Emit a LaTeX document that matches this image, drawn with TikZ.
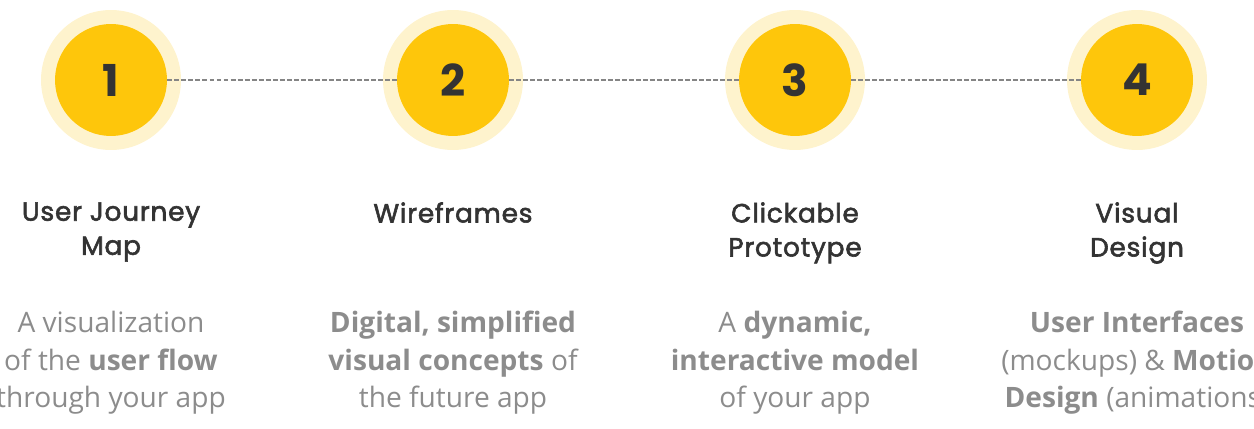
\documentclass[tikz,border=0pt]{standalone}
\usepackage{fontspec}
\setmainfont{Open Sans}
\newfontfamily\headfont{Poppins}[LetterSpace=3, FakeBold=2.2]
\newfontfamily\numfont{Poppins}[UprightFont=*, BoldFont=* Bold]
\usetikzlibrary{positioning}

\definecolor{stepyellow}{HTML}{FEC60B}
\definecolor{stephalo}{HTML}{FEF3CD}
\definecolor{headgray}{HTML}{333333}
\definecolor{bodygray}{HTML}{8C8C8C}
\definecolor{linegray}{HTML}{858585}

\begin{document}
\begin{tikzpicture}[x=0.02cm, y=-0.02cm,
  halo/.style={circle, fill=stephalo, minimum size=2.8cm, inner sep=0pt},
  num/.style={circle, fill=stepyellow, minimum size=2.24cm, inner sep=0pt,
              font=\numfont\bfseries\fontsize{25}{25}\selectfont, text=headgray},
  ttl/.style={anchor=north, align=center, inner sep=0pt, text=headgray,
              font=\headfont\fontsize{15}{19.4}\selectfont},
  dsc/.style={anchor=north, align=center, inner sep=0pt, text=bodygray,
              font=\fontsize{16}{21.3}\selectfont},
  link/.style={draw=linegray, line width=1.1pt, dash pattern=on 2.8pt off 1.2pt},
]
\useasboundingbox (0,0) rectangle (1254,429);

% halos
\node[halo] (h1) at (111,80) {};
\node[halo] (h2) at (453,80) {};
\node[halo] (h3) at (795,80) {};
\node[halo] (h4) at (1137,80) {};

% numbered steps
\node[num] (n1) at (h1) {1};
\node[num] (n2) at (h2) {2};
\node[num] (n3) at (h3) {3};
\node[num] (n4) at (h4) {4};

\draw[link] (n1) -- (n2) (n2) -- (n3) (n3) -- (n4);

% titles
\node[ttl] (t1) at (111,202) {User Journey\\Map};
\node[ttl] (t2) at (453,202) {Wireframes};
\node[ttl] (t3) at (795,202) {Clickable\\Prototype};
\node[ttl] (t4) at (1137,202) {Visual\\Design};

% descriptions
\node[dsc] (d1) at (111,311) {A visualization\\of the \textbf{user flow}\\through your app};
\node[dsc] (d2) at (453,311) {\textbf{Digital, simplified}\\\textbf{visual concepts} of\\the future app};
\node[dsc] (d3) at (795,311) {A \textbf{dynamic,}\\\textbf{interactive model}\\of your app};
\node[dsc] (d4) at (1137,311) {\textbf{User Interfaces}\\(mockups) \& \textbf{Motion}\\\textbf{Design} (animations)};
\end{tikzpicture}
\end{document}
